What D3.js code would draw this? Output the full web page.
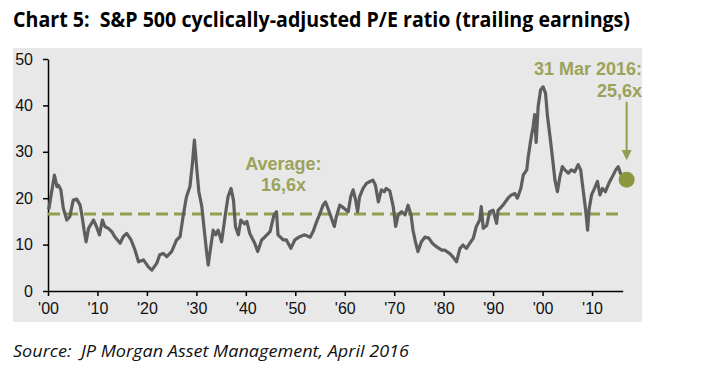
<!DOCTYPE html>
<html>
<head>
<meta charset="utf-8">
<script src="https://cdn.jsdelivr.net/npm/d3@7"></script>
<style>
  body { margin: 0; background: #ffffff; }
  svg { display: block; }
</style>
</head>
<body>
<div id="chart"></div>
<script>
// CAPE series (decimal year, ratio)
const years = [
  1900.0, 1900.2, 1900.7, 1901.3, 1901.8, 1902.1, 1902.6, 1903.1, 1903.8, 1904.4,
  1905.1, 1905.8, 1906.5, 1906.9, 1907.3, 1907.7, 1908.2, 1909.2, 1909.8, 1910.4,
  1911.0, 1911.5, 1912.2, 1912.9, 1913.5, 1914.6, 1915.2, 1915.9, 1916.8, 1917.6,
  1918.3, 1919.3, 1920.3, 1921.0, 1922.0, 1922.6, 1923.3, 1924.0, 1925.0, 1926.0,
  1926.7, 1927.3, 1928.0, 1928.7, 1929.2, 1929.6, 1930.1, 1930.5, 1931.1, 1931.6,
  1932.1, 1932.4, 1932.9, 1933.4, 1933.9, 1934.4, 1935.1, 1935.8, 1936.4, 1937.0,
  1937.5, 1937.9, 1938.5, 1939.0, 1939.7, 1940.2, 1940.8, 1941.8, 1942.4, 1943.2,
  1943.9, 1944.9, 1945.7, 1946.2, 1946.5, 1947.6, 1948.2, 1949.1, 1949.9, 1950.9,
  1951.9, 1953.0, 1953.6, 1954.3, 1955.0, 1955.6, 1956.1, 1956.7, 1957.2, 1957.9,
  1958.3, 1959.0, 1959.9, 1960.7, 1961.2, 1961.7, 1962.2, 1962.6, 1963.0, 1963.7,
  1964.4, 1965.1, 1965.7, 1966.2, 1966.8, 1967.4, 1968.0, 1968.4, 1969.1, 1969.8,
  1970.3, 1970.8, 1971.5, 1972.2, 1972.8, 1973.4, 1973.8, 1974.3, 1974.8, 1975.5,
  1976.2, 1977.0, 1977.7, 1978.6, 1979.6, 1980.2, 1981.2, 1981.9, 1982.6, 1983.3,
  1983.9, 1984.6, 1985.3, 1986.0, 1986.6, 1987.3, 1987.6, 1988.0, 1988.7, 1989.3,
  1990.0, 1990.7, 1991.0, 1992.0, 1993.0, 1993.7, 1994.4, 1994.9, 1995.6, 1996.1,
  1996.8, 1997.1, 1997.6, 1998.1, 1998.4, 1998.7, 1999.1, 1999.6, 2000.1, 2000.6,
  2001.0, 2001.5, 2001.9, 2002.5, 2003.0, 2003.5, 2004.0, 2004.5, 2005.2, 2005.8,
  2006.5, 2007.2, 2007.7, 2008.2, 2008.7, 2009.1, 2009.4, 2009.9, 2010.5, 2011.1,
  2011.6, 2012.1, 2012.7, 2013.4, 2014.1, 2014.8, 2015.3, 2015.7, 2016.0
];
const cape = [
  18.1, 17.8, 21.1, 25.0, 22.5, 22.8, 21.8, 17.8, 15.3, 16.0,
  19.6, 19.8, 18.5, 16.0, 13.1, 10.6, 13.5, 15.3, 13.9, 12.1,
  15.3, 13.9, 13.5, 12.8, 11.7, 10.3, 11.7, 12.4, 11.0, 8.8,
  6.3, 6.7, 5.2, 4.5, 6.0, 7.8, 8.1, 7.4, 8.5, 11.0,
  11.7, 16.0, 20.3, 22.5, 27.5, 32.5, 26.1, 21.4, 18.2, 13.1,
  8.1, 5.6, 9.5, 13.1, 12.1, 13.1, 10.6, 16.0, 20.3, 22.1,
  19.6, 13.9, 12.1, 15.3, 14.5, 15.0, 12.4, 10.3, 8.5, 11.0,
  11.7, 12.8, 16.4, 17.1, 12.1, 11.0, 11.0, 9.2, 11.0, 11.7,
  12.1, 11.6, 12.8, 14.9, 16.7, 18.5, 19.2, 17.5, 16.0, 13.9,
  16.0, 18.5, 17.8, 17.1, 20.3, 21.8, 19.6, 17.1, 20.3, 22.1,
  23.2, 23.6, 23.9, 22.8, 19.2, 21.8, 21.4, 22.1, 21.6, 18.2,
  13.9, 16.4, 17.1, 16.4, 18.5, 16.4, 13.1, 10.6, 8.5, 10.6,
  11.6, 11.4, 10.3, 9.5, 8.8, 8.8, 8.1, 7.3, 6.3, 9.2,
  9.9, 9.2, 10.3, 11.4, 13.9, 15.3, 18.2, 13.5, 14.1, 17.1,
  17.4, 14.6, 17.4, 18.5, 20.0, 20.7, 21.0, 20.0, 22.1, 25.0,
  26.1, 28.9, 32.5, 35.5, 38.0, 32.0, 39.7, 43.3, 44.0, 42.6,
  37.6, 33.3, 29.7, 23.9, 21.4, 24.6, 26.8, 26.1, 25.4, 26.1,
  25.7, 27.2, 26.1, 21.8, 17.5, 13.1, 17.5, 20.7, 22.1, 23.6,
  20.7, 22.1, 21.4, 23.2, 24.6, 26.1, 26.8, 25.5, 24.8
];

const average = 16.6;
const yTicks = [0, 10, 20, 30, 40, 50];
const xTicks = [1900, 1910, 1920, 1930, 1940, 1950, 1960, 1970, 1980, 1990, 2000, 2010];
const latest = { year: 2017, value: 24 };

const title = "Chart 5:  S&P 500 cyclically-adjusted P/E ratio (trailing earnings)";
const source = "Source:  JP Morgan Asset Management, April 2016";

const W = 728, H = 383;
const olive = "#949e4f";
const oliveText = "#9ba35b";

const svg = d3.select("#chart").append("svg")
  .attr("width", W)
  .attr("height", H);

// gray panel behind the plot
svg.append("rect")
  .attr("x", 13).attr("y", 48)
  .attr("width", 629).attr("height", 274)
  .attr("fill", "#e8e8e8");

// title + source (keep the double spaces)
svg.append("text")
  .attr("x", 13).attr("y", 27)
  .attr("textLength", 617)
  .attr("lengthAdjust", "spacingAndGlyphs")
  .style("white-space", "pre")
  .style("font-family", "'Open Sans', sans-serif")
  .style("font-weight", 700)
  .style("font-size", "21px")
  .attr("fill", "#000")
  .text(title);

svg.append("text")
  .attr("x", 13).attr("y", 357)
  .attr("textLength", 396)
  .attr("lengthAdjust", "spacingAndGlyphs")
  .style("white-space", "pre")
  .style("font-family", "'Open Sans', sans-serif")
  .style("font-style", "italic")
  .style("font-size", "17px")
  .attr("fill", "#111")
  .text(source);

// scales
const x = d3.scaleLinear().domain([1900, 2016.2]).range([48, 622.7]);
const y = d3.scaleLinear().domain([0, 50]).range([291, 59]);

// axes
const yAxis = d3.axisLeft(y).tickValues(yTicks).tickSize(5).tickSizeOuter(0).tickPadding(10);
const xAxis = d3.axisBottom(x).tickValues(xTicks).tickSize(5).tickSizeOuter(0).tickPadding(7)
  .tickFormat((d) => "'" + String(d).slice(2));

const gy = svg.append("g").attr("transform", "translate(48,0)").call(yAxis);
const gx = svg.append("g").attr("transform", "translate(0,291)").call(xAxis);

[gx, gy].forEach((g) => {
  g.selectAll("path, line").attr("stroke", "#000").attr("stroke-width", 1.5);
  g.selectAll("text")
    .attr("fill", "#111")
    .style("font-family", "'Liberation Sans', Arial, sans-serif")
    .style("font-size", "16px");
});

// average dashed line
svg.append("line")
  .attr("x1", x(1900)).attr("x2", x(2015.5))
  .attr("y1", y(average)).attr("y2", y(average))
  .attr("stroke", olive)
  .attr("stroke-width", 3)
  .attr("stroke-dasharray", "12,6");

// the CAPE line
const line = d3.line()
  .x((d, i) => x(years[i]))
  .y((d) => y(d));

svg.append("path")
  .datum(cape)
  .attr("d", line)
  .attr("fill", "none")
  .attr("stroke", "#5e5e5e")
  .attr("stroke-width", 3.2)
  .attr("stroke-linejoin", "round");

// average label
const avgLabel = svg.append("text")
  .attr("text-anchor", "middle")
  .style("font-family", "'Liberation Sans', Arial, sans-serif")
  .style("font-weight", "bold")
  .style("font-size", "18px")
  .attr("fill", oliveText);
avgLabel.append("tspan").attr("x", x(1947.6)).attr("y", 170).text("Average:");
avgLabel.append("tspan").attr("x", x(1947.6)).attr("y", 191).text("16,6x");

// latest value marker + arrow
svg.append("circle")
  .attr("cx", x(latest.year))
  .attr("cy", y(latest.value))
  .attr("r", 8)
  .attr("fill", "#8b963d");

const ax = x(latest.year);
svg.append("line")
  .attr("x1", ax).attr("x2", ax)
  .attr("y1", y(40.8)).attr("y2", y(30))
  .attr("stroke", olive)
  .attr("stroke-width", 2);
svg.append("path")
  .attr("d", `M${ax - 5},${y(30.4)} L${ax + 5},${y(30.4)} L${ax},${y(28.2)} Z`)
  .attr("fill", olive);

const lastLabel = svg.append("text")
  .attr("text-anchor", "end")
  .style("font-family", "'Liberation Sans', Arial, sans-serif")
  .style("font-weight", "bold")
  .style("font-size", "18px")
  .attr("fill", oliveText);
lastLabel.append("tspan").attr("x", 642).attr("y", 75).text("31 Mar 2016:");
lastLabel.append("tspan").attr("x", 642).attr("y", 97).text("25,6x");
</script>
</body>
</html>
